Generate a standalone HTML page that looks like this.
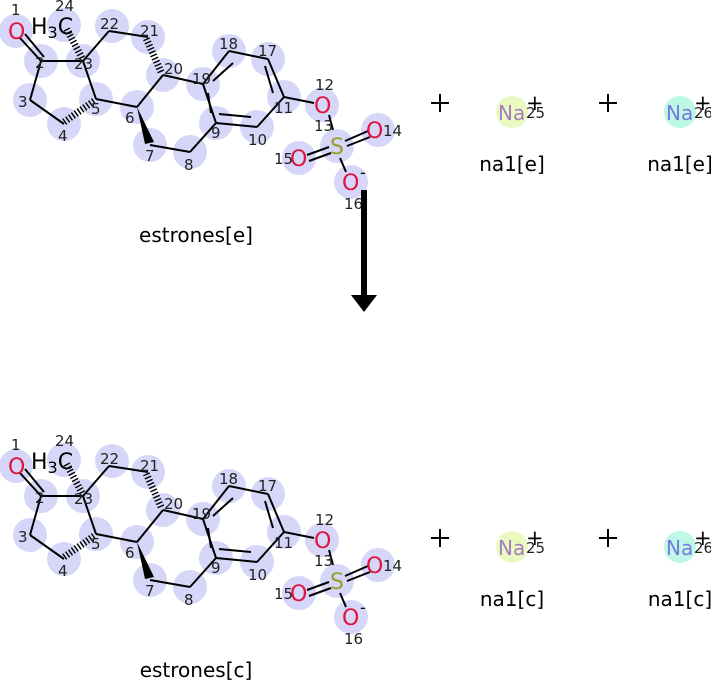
<!DOCTYPE html>
<html><head><style>body{margin:0;background:#fff}svg{display:block}</style></head><body>
<svg width="711" height="680" viewBox="0 0 711 680" xmlns="http://www.w3.org/2000/svg" font-family="DejaVu Sans, Liberation Sans, sans-serif">
<defs>
<g id="mol">
 <g fill="#d6d6f8">
  <circle cx="16" cy="31" r="17"/><circle cx="41" cy="61" r="17"/><circle cx="30" cy="100" r="17"/>
  <circle cx="64" cy="124" r="17"/><circle cx="96" cy="99" r="17"/><circle cx="83" cy="61" r="17"/>
  <circle cx="64" cy="25" r="17"/><circle cx="112" cy="26" r="17"/><circle cx="148" cy="37" r="17"/>
  <circle cx="163" cy="75" r="17"/><circle cx="203" cy="84" r="17"/><circle cx="229" cy="51" r="17"/>
  <circle cx="268" cy="59" r="17"/><circle cx="284" cy="97" r="17"/><circle cx="257" cy="127" r="17"/>
  <circle cx="216" cy="123" r="17"/><circle cx="190" cy="152" r="17"/><circle cx="150" cy="145" r="17"/>
  <circle cx="137" cy="107" r="17"/><circle cx="322" cy="105" r="17"/><circle cx="337" cy="146" r="17"/>
  <circle cx="378" cy="130" r="17"/><circle cx="299" cy="158" r="17"/><circle cx="351" cy="182" r="17"/>
 </g>
 <g stroke="#000" stroke-width="2" fill="none">
  <line x1="20" y1="38" x2="41" y2="61"/><line x1="25" y1="34" x2="44" y2="57"/>
  <line x1="41" y1="61" x2="30" y2="100"/><line x1="30" y1="100" x2="64" y2="124"/>
  <line x1="41" y1="61" x2="83" y2="61"/><line x1="83" y1="61" x2="96" y2="99"/>
  <line x1="83" y1="61" x2="109" y2="31"/><line x1="109" y1="31" x2="148" y2="37"/>
  <line x1="96" y1="99" x2="137" y2="107"/><line x1="137" y1="107" x2="163" y2="75"/>
  <line x1="163" y1="75" x2="203" y2="84"/><line x1="150" y1="145" x2="190" y2="152"/>
  <line x1="190" y1="152" x2="216" y2="123"/>
  <line x1="203" y1="84" x2="229" y2="51"/><line x1="229" y1="51" x2="268" y2="59"/>
  <line x1="268" y1="59" x2="284" y2="97"/><line x1="284" y1="97" x2="257" y2="127"/>
  <line x1="257" y1="127" x2="216" y2="123"/><line x1="216" y1="123" x2="203" y2="84"/>
  <line x1="213" y1="81" x2="233" y2="63"/><line x1="265" y1="66" x2="273" y2="93"/>
  <line x1="251" y1="117" x2="219" y2="114"/><line x1="208" y1="93" x2="211" y2="113"/>
  <line x1="284" y1="97" x2="314" y2="103"/><line x1="329" y1="115" x2="333" y2="130"/>
  <line x1="340" y1="158" x2="346" y2="172"/>
  <line x1="345" y1="141" x2="368" y2="131"/><line x1="347" y1="146" x2="370" y2="137"/>
  <line x1="307" y1="155" x2="329" y2="147"/><line x1="309" y1="161" x2="331" y2="153"/>
 </g>
 <g stroke="#000" stroke-width="7" stroke-dasharray="1.4 2.1" fill="none">
  <line x1="82" y1="58" x2="66" y2="28"/>
  <line x1="94" y1="101" x2="64" y2="122"/>
  <line x1="161" y1="72" x2="146" y2="38"/>
 </g>
 <polygon points="137,107 145,144 154,142" fill="#000"/>
 <g font-size="22">
  <text x="8" y="39" fill="#e0143c">O</text>
  <text x="31" y="34" fill="#000">H<tspan font-size="16" dy="4">3</tspan><tspan dy="-4">C</tspan></text>
  <text x="314" y="113" fill="#e0143c">O</text>
  <text x="330" y="154" fill="#9c9c28">S</text>
  <text x="366" y="138" fill="#e0143c">O</text>
  <text x="290" y="166" fill="#e0143c">O</text>
  <text x="342" y="190" fill="#e0143c">O</text>
 </g>
 <text x="360" y="178" font-size="16">-</text>
 <g font-size="15" fill="#222">
  <text x="11" y="15">1</text><text x="35" y="68">2</text><text x="18" y="107">3</text>
  <text x="58" y="141">4</text><text x="91" y="114">5</text><text x="125" y="123">6</text>
  <text x="145" y="161">7</text><text x="184" y="170">8</text><text x="211" y="138">9</text>
  <text x="248" y="145">10</text><text x="274" y="113">11</text><text x="315" y="90">12</text>
  <text x="314" y="131">13</text><text x="383" y="136">14</text><text x="274" y="164">15</text>
  <text x="344" y="209">16</text><text x="258" y="56">17</text><text x="219" y="49">18</text>
  <text x="192" y="84">19</text><text x="164" y="74">20</text><text x="140" y="36">21</text>
  <text x="100" y="29">22</text><text x="74" y="69">23</text><text x="55" y="11">24</text>
 </g>
</g>
<g id="na">
 <line x1="431" y1="103" x2="449" y2="103" stroke="#000" stroke-width="2"/>
 <line x1="440" y1="94" x2="440" y2="112" stroke="#000" stroke-width="2"/>
 <line x1="599" y1="103" x2="617" y2="103" stroke="#000" stroke-width="2"/>
 <line x1="608" y1="94" x2="608" y2="112" stroke="#000" stroke-width="2"/>
 <circle cx="512" cy="112" r="16" fill="#eaf9c0"/>
 <circle cx="680" cy="112" r="16" fill="#bdf8e6"/>
 <text x="498" y="120" font-size="20" fill="#a67cc0">Na</text>
 <text x="666" y="120" font-size="20" fill="#7878e0">Na</text>
 <text x="526" y="110" font-size="21">+</text><text x="694" y="110" font-size="21">+</text>
 <text x="526" y="118" font-size="15" fill="#222">25</text>
 <text x="694" y="118" font-size="15" fill="#222">26</text>
</g>
</defs>
<use href="#mol"/>
<use href="#mol" transform="translate(0,435)"/>
<use href="#na"/>
<use href="#na" transform="translate(0,435)"/>
<g font-size="20" text-anchor="middle" fill="#000">
 <text x="196" y="242">estrones[e]</text>
 <text x="196" y="677">estrones[c]</text>
 <text x="512" y="171">na1[e]</text><text x="680" y="171">na1[e]</text>
 <text x="512" y="606">na1[c]</text><text x="680" y="606">na1[c]</text>
</g>
<rect x="361" y="190" width="6" height="106" fill="#000"/>
<polygon points="351,295 377,295 364,312" fill="#000"/>
</svg>
</body></html>
